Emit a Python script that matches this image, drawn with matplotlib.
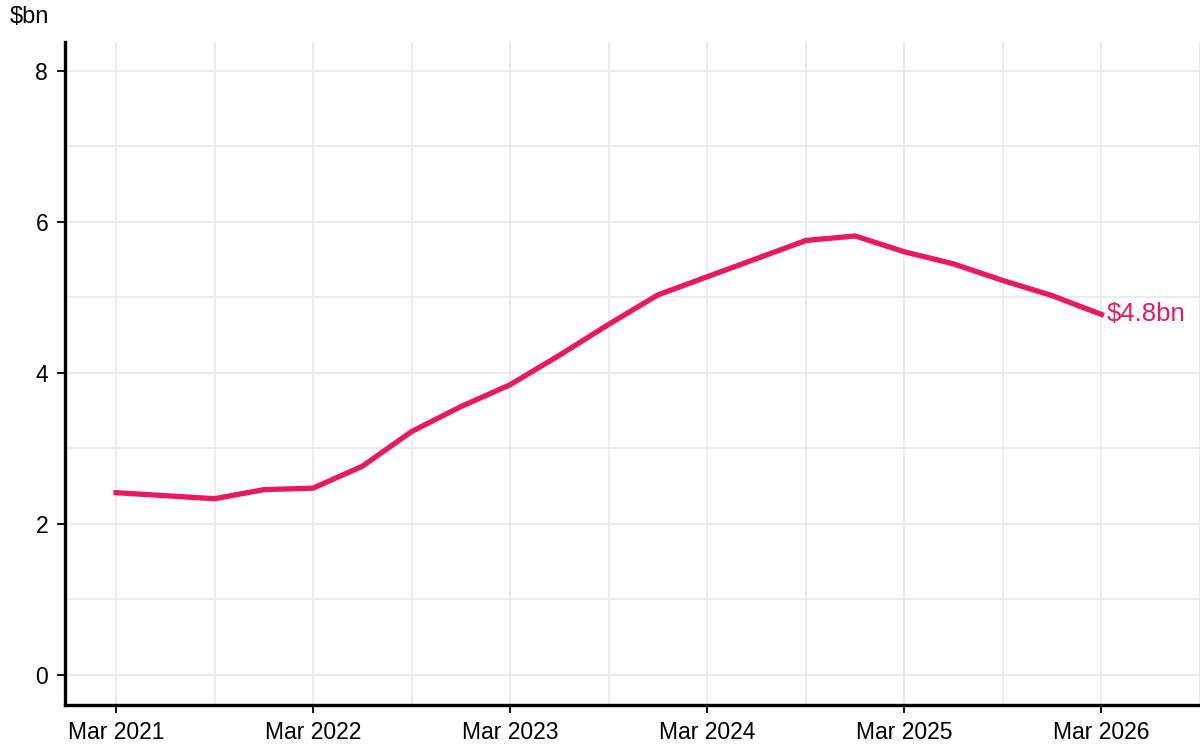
import matplotlib.pyplot as plt
from matplotlib.ticker import MultipleLocator

plt.rcParams['font.family'] = ['Liberation Sans', 'DejaVu Sans']

# quarters since Mar 2021 (0 = Mar 2021, 4 = Mar 2022, ...)
quarters = [0, 2, 3, 4, 5, 6, 7, 8, 9, 10, 11, 12, 13, 14, 15, 16, 17, 18, 19, 20]
values = [2.41, 2.33, 2.45, 2.47, 2.76, 3.22, 3.55, 3.84, 4.23, 4.64, 5.03, 5.27,
          5.51, 5.75, 5.81, 5.60, 5.44, 5.22, 5.02, 4.77]
tick_pos = [0, 4, 8, 12, 16, 20]
tick_labels = ["Mar 2021", "Mar 2022", "Mar 2023", "Mar 2024", "Mar 2025", "Mar 2026"]
end_label = "$4.8bn"

pink = '#eb1762'

fig = plt.figure(figsize=(12, 7.49), dpi=100)
ax = fig.add_axes([0.054, 0.059, 0.946, 0.885])

ax.plot(quarters, values, color=pink, lw=3.8, solid_joinstyle='round', zorder=3)
ax.annotate(end_label, (quarters[-1], values[-1]), xytext=(4, 0),
            textcoords='offset points', va='center', ha='left',
            color=pink, fontsize=18.5)

ax.set_xlim(-1.04, 22.0)
ax.set_ylim(-0.4, 8.38)
ax.set_xticks(tick_pos)
ax.set_xticklabels(tick_labels)
ax.xaxis.set_minor_locator(MultipleLocator(2))
ax.set_yticks([0, 2, 4, 6, 8])
ax.yaxis.set_minor_locator(MultipleLocator(1))

ax.grid(which='both', color='#ebebeb', lw=1.3, zorder=0)
ax.set_axisbelow(True)
for s in ['top', 'right']:
    ax.spines[s].set_visible(False)
for s in ['left', 'bottom']:
    ax.spines[s].set_linewidth(2.4)
    ax.spines[s].set_color('black')
ax.tick_params(which='major', length=6, width=1.3, labelsize=16.5, pad=6)
ax.tick_params(which='minor', length=0)

fig.text(0.008, 0.977, "$bn", fontsize=17, va='center', ha='left')

fig.savefig('out.png', dpi=100, facecolor='white')
